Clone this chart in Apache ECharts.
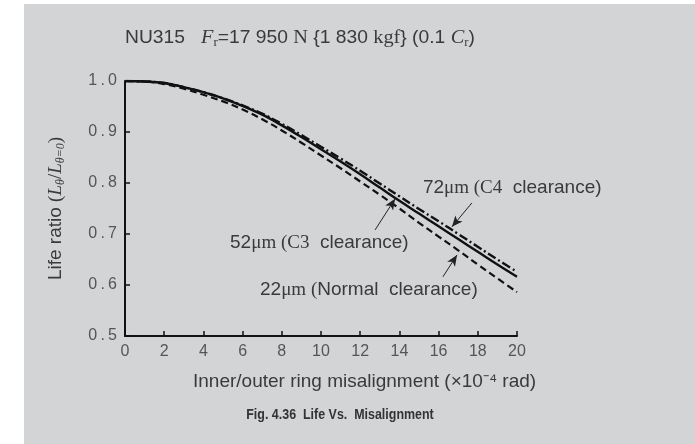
<!DOCTYPE html>
<html>
<head>
<meta charset="utf-8">
<script src="https://cdn.jsdelivr.net/npm/echarts@6/dist/echarts.min.js"></script>
<style>
  html, body { margin: 0; padding: 0; background: #ffffff; }
  #panel { position: absolute; left: 24px; top: 4px; width: 671px; height: 440px; background: #d3d4d6; }
  #chart { position: absolute; left: 0; top: 0; width: 695px; height: 444px; }
</style>
</head>
<body>
<div id="panel"></div>
<div id="chart"></div>
<script>
// Misalignment (x10^-4 rad)
const misalignment = [0, 1, 2, 3, 4, 5, 6, 7, 8, 9, 10, 11, 12, 13, 14, 15, 16, 17, 18, 19, 20];

// Life ratio L_theta / L_theta=0 for each radial internal clearance
const lifeC4_72um = [1.000, 0.999, 0.996, 0.988, 0.978, 0.966, 0.952, 0.936, 0.916, 0.894, 0.871,
                     0.848, 0.824, 0.799, 0.774, 0.749, 0.725, 0.700, 0.675, 0.650, 0.626];
const lifeC3_52um = [1.000, 0.999, 0.996, 0.988, 0.978, 0.966, 0.951, 0.934, 0.913, 0.890, 0.866,
                     0.842, 0.817, 0.791, 0.765, 0.740, 0.715, 0.690, 0.665, 0.640, 0.616];
const lifeCN_22um = [1.000, 0.999, 0.994, 0.985, 0.973, 0.960, 0.944, 0.925, 0.903, 0.879, 0.854,
                     0.829, 0.803, 0.777, 0.750, 0.722, 0.695, 0.668, 0.640, 0.613, 0.586];

// Axis ticks
const xTicks = { min: 0, max: 20, step: 2 };
const yTicks = { min: 0.5, max: 1.0, step: 0.1 };

// Callout labels: text anchor and leader line (data coordinates)
const calloutText = [
  '{n|72}{u|μm (C4}{t|  clearance)}',
  '{n|52}{u|μm (C3}{t|  clearance)}',
  '{n|22}{u|μm (}{t|Normal  clearance)}'
];
const calloutAnchor = [[15.2, 0.790], [5.36, 0.682], [6.89, 0.590]];
const calloutLeader = [
  [[17.70, 0.761], [16.68, 0.714]],
  [[12.76, 0.708], [13.78, 0.769]],
  [[16.22, 0.616], [16.94, 0.659]]
];

// Heading: bearing and load condition, mixed sans / serif glyphs
const headingText = 'NU315   {f|F}{r|r}=17 950 {v|N} \u007B1 830 {v|kgf}\u007D (0.1 {f|C}{r|r})';

const ink = '#111111';
const textGray = '#3a3a3a';
const serif = '"Liberation Serif", "DejaVu Serif", serif';
const sans = '"Liberation Sans", Arial, sans-serif';

function pairs(ys) { return misalignment.map((x, i) => [x, ys[i]]); }

const calloutRich = {
  n: { fontFamily: sans, fontSize: 19, color: textGray },
  u: { fontFamily: serif, fontSize: 19, color: textGray },
  t: { fontFamily: sans, fontSize: 19, color: textGray }
};

const chart = echarts.init(document.getElementById('chart'), null, { renderer: 'canvas' });

chart.setOption({
  animation: false,
  backgroundColor: 'transparent',
  grid: { left: 125, right: 178, top: 81, bottom: 108, containLabel: false },
  graphic: [
    {
      type: 'text', x: 125, y: 38, scaleX: 1.07,
      style: {
        text: headingText, fontFamily: sans, fontSize: 18, fill: textGray,
        textVerticalAlign: 'middle',
        rich: {
          f: { fontFamily: serif, fontStyle: 'italic', fontSize: 19, color: textGray },
          v: { fontFamily: serif, fontSize: 19, color: textGray },
          r: { fontFamily: serif, fontSize: 12, color: textGray, padding: [9, 0, 0, 0] }
        }
      }
    },
    {
      // x-axis title
      type: 'text', x: 193, y: 382,
      style: {
        text: 'Inner/outer ring misalignment (\u00D710\u207B\u2074 rad)',
        fontFamily: sans, fontSize: 19, fill: textGray,
        textVerticalAlign: 'middle'
      }
    },
    {
      // figure caption
      type: 'text', x: 340, y: 415, scaleX: 0.83,
      style: {
        text: 'Fig. 4.36  Life Vs.  Misalignment',
        fontFamily: sans, fontWeight: 'bold', fontSize: 15, fill: '#333333',
        textAlign: 'center', textVerticalAlign: 'middle'
      }
    }
  ],
  xAxis: {
    type: 'value',
    min: xTicks.min, max: xTicks.max, interval: xTicks.step,
    axisLine: { lineStyle: { color: ink, width: 2 } },
    axisTick: { inside: true, length: 5, lineStyle: { color: ink, width: 1.5 } },
    axisLabel: { margin: 8, fontFamily: sans, fontSize: 16, color: '#555555' },
    splitLine: { show: false }
  },
  yAxis: {
    type: 'value',
    min: yTicks.min, max: yTicks.max, interval: yTicks.step,
    name: '{a|Life ratio }{p|(}{l|L}{s|θ}{p|/}{l|L}{s|θ=0}{p|)}',
    nameLocation: 'middle', nameRotate: 90, nameGap: 58,
    nameTextStyle: {
      rich: {
        a: { fontFamily: sans, fontSize: 19, color: textGray, lineHeight: 22 },
        p: { fontFamily: serif, fontSize: 19, color: textGray, lineHeight: 22 },
        l: { fontFamily: serif, fontStyle: 'italic', fontSize: 19, color: textGray, lineHeight: 22 },
        s: { fontFamily: serif, fontStyle: 'italic', fontSize: 12, color: textGray, lineHeight: 14, verticalAlign: 'bottom' }
      }
    },
    axisLine: { show: true, lineStyle: { color: ink, width: 2 } },
    axisTick: { show: true, inside: true, length: 5, lineStyle: { color: ink, width: 1.5 } },
    axisLabel: {
      margin: 8, fontFamily: sans, fontSize: 16, color: '#555555',
      formatter: v => v.toFixed(1).split('').join('\u2009')
    },
    splitLine: { show: false }
  },
  series: [
    {
      name: '72μm (C4 clearance)', type: 'line', data: pairs(lifeC4_72um),
      smooth: 0.4, showSymbol: false, symbol: 'none',
      lineStyle: { color: ink, width: 2.4, type: [9, 3, 2, 3] },
      markLine: {
        silent: true, symbol: ['none', 'arrow'], symbolSize: 10,
        label: { show: false },
        lineStyle: { color: '#222222', width: 1, type: 'solid' },
        data: calloutLeader.map(l => [
          { coord: l[0], symbol: 'none' },
          { coord: l[1], symbol: 'arrow', symbolSize: [7, 11] }
        ])
      },
      markPoint: {
        silent: true, symbol: 'circle', symbolSize: 0,
        label: {
          show: true, position: 'right', distance: 0,
          formatter: p => calloutText[p.dataIndex], rich: calloutRich
        },
        data: calloutAnchor.map(c => ({ coord: c }))
      }
    },
    {
      name: '52μm (C3 clearance)', type: 'line', data: pairs(lifeC3_52um),
      smooth: 0.4, showSymbol: false, symbol: 'none',
      lineStyle: { color: ink, width: 2.4, type: 'solid' }
    },
    {
      name: '22μm (Normal clearance)', type: 'line', data: pairs(lifeCN_22um),
      smooth: 0.4, showSymbol: false, symbol: 'none',
      lineStyle: { color: ink, width: 2.2, type: [7, 4] }
    }
  ]
});
</script>
</body>
</html>
